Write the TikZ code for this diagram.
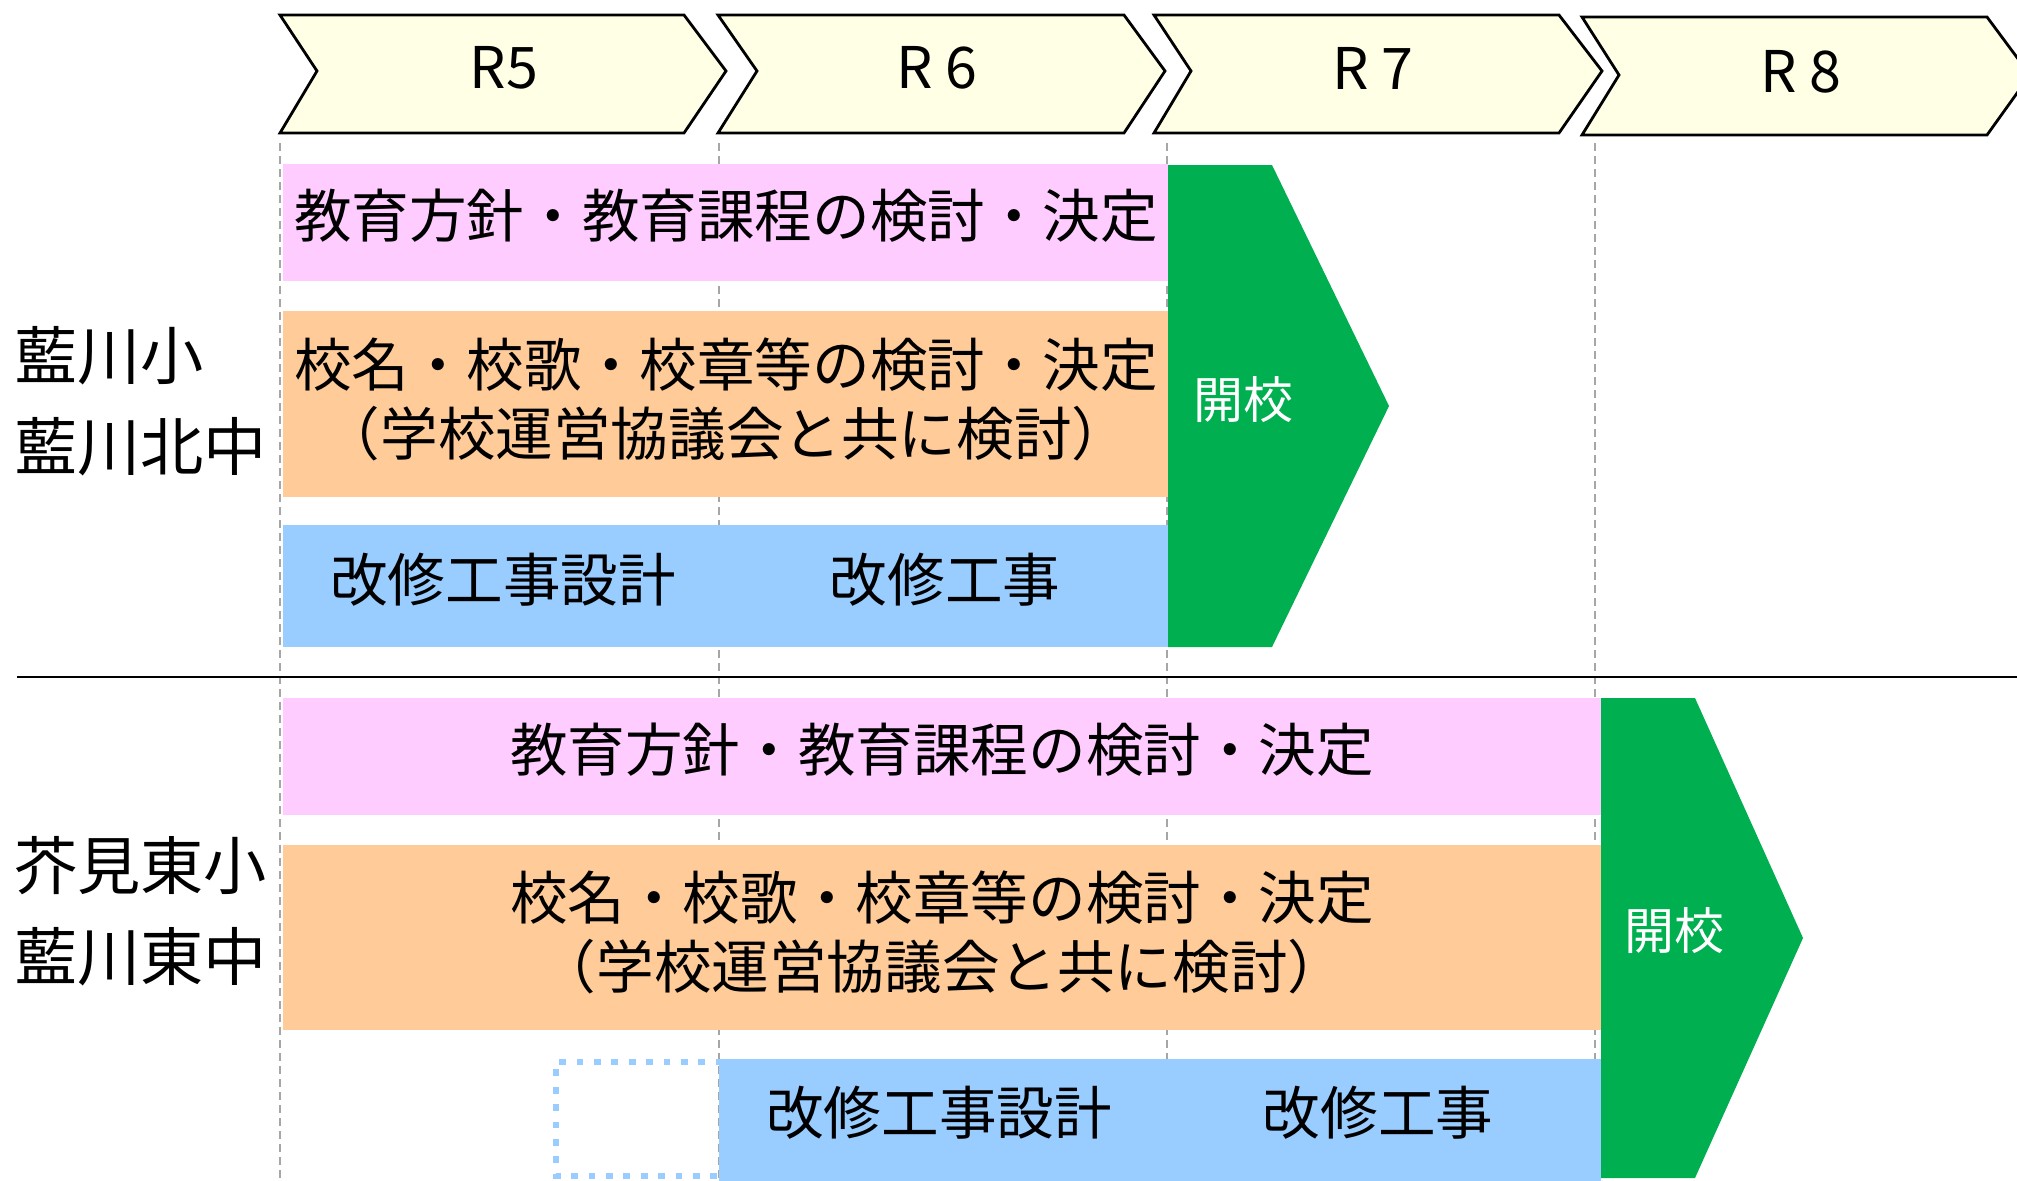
\documentclass[tikz,border=0pt]{standalone}
\usepackage{fontspec}
\setmainfont{Noto Sans CJK JP}
\definecolor{cheyellow}{RGB}{255,255,229}
\definecolor{barpink}{RGB}{255,204,255}
\definecolor{barorange}{RGB}{255,204,153}
\definecolor{barblue}{RGB}{153,204,255}
\definecolor{opengreen}{RGB}{0,176,80}
\definecolor{gridgrey}{RGB}{166,166,166}
\begin{document}
\begin{tikzpicture}[x=0.5pt,y=-0.5pt,
  yearbox/.style={draw=black, line width=1.4pt, fill=cheyellow, line join=miter},
  yeartext/.style={font=\fontsize{28.7}{34}\selectfont, inner sep=0pt},
  bartext/.style={font=\fontsize{28.8}{34.5}\selectfont, align=center, inner sep=0pt},
  schoollabel/.style={font=\fontsize{31.6}{36}\selectfont, inner sep=0pt, anchor=west},
  opentext/.style={font=\fontsize{25}{30}\selectfont, text=white, inner sep=0pt},
  gridline/.style={gridgrey, line width=1pt, dash pattern=on 4pt off 2.5pt},
  planbox/.style={barblue, line width=3.2pt, dash pattern=on 3.4pt off 5.3pt}
]
\useasboundingbox (0,0) rectangle (2017,1180);
\begin{scope}
\clip (0,0) rectangle (2017,1180);
% year grid lines
\foreach \gx in {280,719,1167,1595}{
  \draw[gridline] (\gx,143) -- (\gx,1180);
}
% separator
\draw[line width=0.8pt] (17,677) -- (2017,677);

% year chevrons
\draw[yearbox] (280,15) -- (684,15) -- (726,71) -- (684,133) -- (280,133) -- (317,71) -- cycle;
\draw[yearbox] (718,15) -- (1124,15) -- (1165,71) -- (1124,133) -- (718,133) -- (757,71) -- cycle;
\draw[yearbox] (1154,15) -- (1559,15) -- (1602,71) -- (1559,133) -- (1154,133) -- (1191,71) -- cycle;
\draw[yearbox] (1582,17) -- (1987,17) -- (2030,75) -- (1987,135) -- (1582,135) -- (1619,75) -- cycle;
\node[yeartext] (y5) at (504,68) {R5};
\node[yeartext] (y6) at (937,68) {R 6};
\node[yeartext] (y7) at (1373,68) {R 7};
\node[yeartext] (y8) at (1801,72) {R 8};

% group 1
\fill[barpink] (283,164) rectangle (1168,281);
\fill[barorange] (283,311) rectangle (1168,497);
\fill[barblue] (283,525) rectangle (1168,647);
\fill[opengreen] (1168,165) -- (1272,165) -- (1389,406) -- (1272,647) -- (1168,647) -- cycle;
\node[bartext] (a1) at (726,216) {教育方針・教育課程の検討・決定};
\node[bartext] (a2) at (726,399) {校名・校歌・校章等の検討・決定\\（学校運営協議会と共に検討）};
\node[bartext] (a3) at (503,580) {改修工事設計};
\node[bartext] (a4) at (945,580) {改修工事};
\node[opentext] (a5) at (1243,400) {開校};
\node[schoollabel] (s1) at (14,356) {藍川小};
\node[schoollabel] (s2) at (14,447) {藍川北中};

% group 2
\fill[barpink] (283,698) rectangle (1601,815);
\fill[barorange] (283,845) rectangle (1601,1030);
\draw[planbox] (740,1062) -- (556,1062) -- (556,1176) -- (740,1176);
\fill[barblue] (719,1059) rectangle (1601,1185);
\fill[opengreen] (1601,698) -- (1695,698) -- (1803,938) -- (1695,1178) -- (1601,1178) -- cycle;
\node[bartext] (b1) at (942,750) {教育方針・教育課程の検討・決定};
\node[bartext] (b2) at (942,932) {校名・校歌・校章等の検討・決定\\（学校運営協議会と共に検討）};
\node[bartext] (b3) at (939,1113) {改修工事設計};
\node[bartext] (b4) at (1378,1113) {改修工事};
\node[opentext] (b5) at (1674,931) {開校};
\node[schoollabel] (s3) at (14,866) {芥見東小};
\node[schoollabel] (s4) at (14,957) {藍川東中};
\end{scope}
\end{tikzpicture}
\end{document}
